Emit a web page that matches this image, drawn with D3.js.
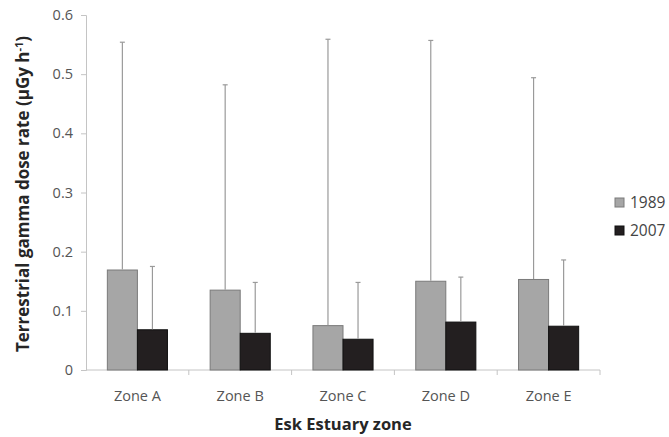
<!DOCTYPE html>
<html>
<head>
<meta charset="utf-8">
<title>Esk Estuary gamma dose rate</title>
<style>
  body { margin: 0; background: #fff; }
  text { font-family: "Open Sans", sans-serif; }
  .axis path, .axis line { stroke: #c4c4c4; }
  .title { font-weight: bold; fill: #262626; }
  .legend text { fill: #444; font-size: 15.5px; }
</style>
</head>
<body>
<svg width="669" height="437"></svg>
<script src="https://cdn.jsdelivr.net/npm/d3@7"></script>
<script>
var zones = ["Zone A", "Zone B", "Zone C", "Zone D", "Zone E"];
var years = ["1989", "2007"];
var mean1989 = [0.169, 0.135, 0.075, 0.150, 0.153];
var mean2007 = [0.068, 0.062, 0.052, 0.081, 0.074];
var upper1989 = [0.554, 0.482, 0.559, 0.557, 0.494];
var upper2007 = [0.175, 0.148, 0.148, 0.157, 0.186];
var yTicks = [0, 0.1, 0.2, 0.3, 0.4, 0.5, 0.6];

var colors = { "1989": "#a6a6a6", "2007": "#231f20" };
var strokes = { "1989": "#7a7a7a", "2007": "#111" };

var svg = d3.select("svg");
var mLeft = 86, mRight = 600, mTop = 15, mBottom = 370;

var x = d3.scaleBand().domain(zones).range([mLeft, mRight]).paddingInner(0).paddingOuter(0);
var xi = d3.scaleBand().domain(years).range([0, x.bandwidth()]).paddingInner(0).paddingOuter(0.71);
var y = d3.scaleLinear().domain([0, 0.6]).range([mBottom, mTop]);

// y axis
var yAxis = svg.append("g").attr("class", "axis")
  .attr("transform", "translate(" + mLeft + ",0)")
  .call(d3.axisLeft(y).tickValues(yTicks).tickSize(5).tickPadding(8)
    .tickFormat(function(d) { return d === 0 ? "0" : d3.format(".1f")(d); }));
yAxis.selectAll(".tick text").style("font-size", "14.5px").style("fill", "#555")
  .style("font-family", "'Open Sans', sans-serif");

// x axis with ticks between categories
var xAxis = svg.append("g").attr("class", "axis")
  .attr("transform", "translate(0," + mBottom + ")");
xAxis.append("line").attr("x1", mLeft).attr("x2", mRight).attr("y1", 0).attr("y2", 0);
xAxis.selectAll(".sep").data(zones)
  .enter().append("line")
  .attr("x1", function(d) { return x(d) + x.bandwidth(); })
  .attr("x2", function(d) { return x(d) + x.bandwidth(); })
  .attr("y1", 0).attr("y2", 5);
xAxis.selectAll(".lbl").data(zones).enter().append("text")
  .attr("x", function(d) { return x(d) + x.bandwidth() / 2; })
  .attr("y", 31)
  .attr("text-anchor", "middle")
  .style("fill", "#555").style("font-size", "14.5px")
  .text(function(d) { return d; });

var rows = [];
zones.forEach(function(z, i) {
  rows.push({ zone: z, year: "1989", v: mean1989[i], up: upper1989[i] });
  rows.push({ zone: z, year: "2007", v: mean2007[i], up: upper2007[i] });
});

function cx(d) { return x(d.zone) + xi(d.year) + xi.bandwidth() / 2; }

// bars
svg.append("g").selectAll("rect").data(rows).enter().append("rect")
  .attr("x", function(d) { return x(d.zone) + xi(d.year); })
  .attr("width", xi.bandwidth())
  .attr("y", function(d) { return y(d.v); })
  .attr("height", function(d) { return y(0) - y(d.v); })
  .attr("fill", function(d) { return colors[d.year]; })
  .attr("stroke", function(d) { return strokes[d.year]; })
  .attr("stroke-width", 1);

// error bars (upper only)
var err = svg.append("g");
err.selectAll("line.v").data(rows).enter().append("line")
  .attr("x1", cx).attr("x2", cx)
  .attr("y1", function(d) { return y(d.v) - 0.5; })
  .attr("y2", function(d) { return y(d.up); })
  .attr("stroke", "#9a9a9a").attr("stroke-width", 1.2);
err.selectAll("line.c").data(rows).enter().append("line")
  .attr("x1", function(d) { return cx(d) - 2.5; })
  .attr("x2", function(d) { return cx(d) + 2.5; })
  .attr("y1", function(d) { return y(d.up); })
  .attr("y2", function(d) { return y(d.up); })
  .attr("stroke", "#9a9a9a").attr("stroke-width", 1.2);

// titles
svg.append("text").attr("class", "title")
  .attr("x", 343).attr("y", 430).attr("text-anchor", "middle")
  .style("font-size", "16.5px")
  .text("Esk Estuary zone");

var yt = svg.append("text").attr("class", "title")
  .attr("transform", "translate(29,194) rotate(-90)")
  .attr("text-anchor", "middle")
  .style("font-size", "17px");
yt.append("tspan").text("Terrestrial gamma dose rate (µGy h");
yt.append("tspan").attr("dy", -6).style("font-size", "11px").text("-1");
yt.append("tspan").attr("dy", 6).text(")");

// legend
var legend = svg.append("g").attr("class", "legend");
years.forEach(function(yr, i) {
  var g = legend.append("g").attr("transform", "translate(615," + (198 + i * 28) + ")");
  g.append("rect").attr("width", 9).attr("height", 9)
    .attr("fill", colors[yr]).attr("stroke", strokes[yr]);
  g.append("text").attr("x", 15).attr("y", 10).text(yr);
});
</script>
</body>
</html>
